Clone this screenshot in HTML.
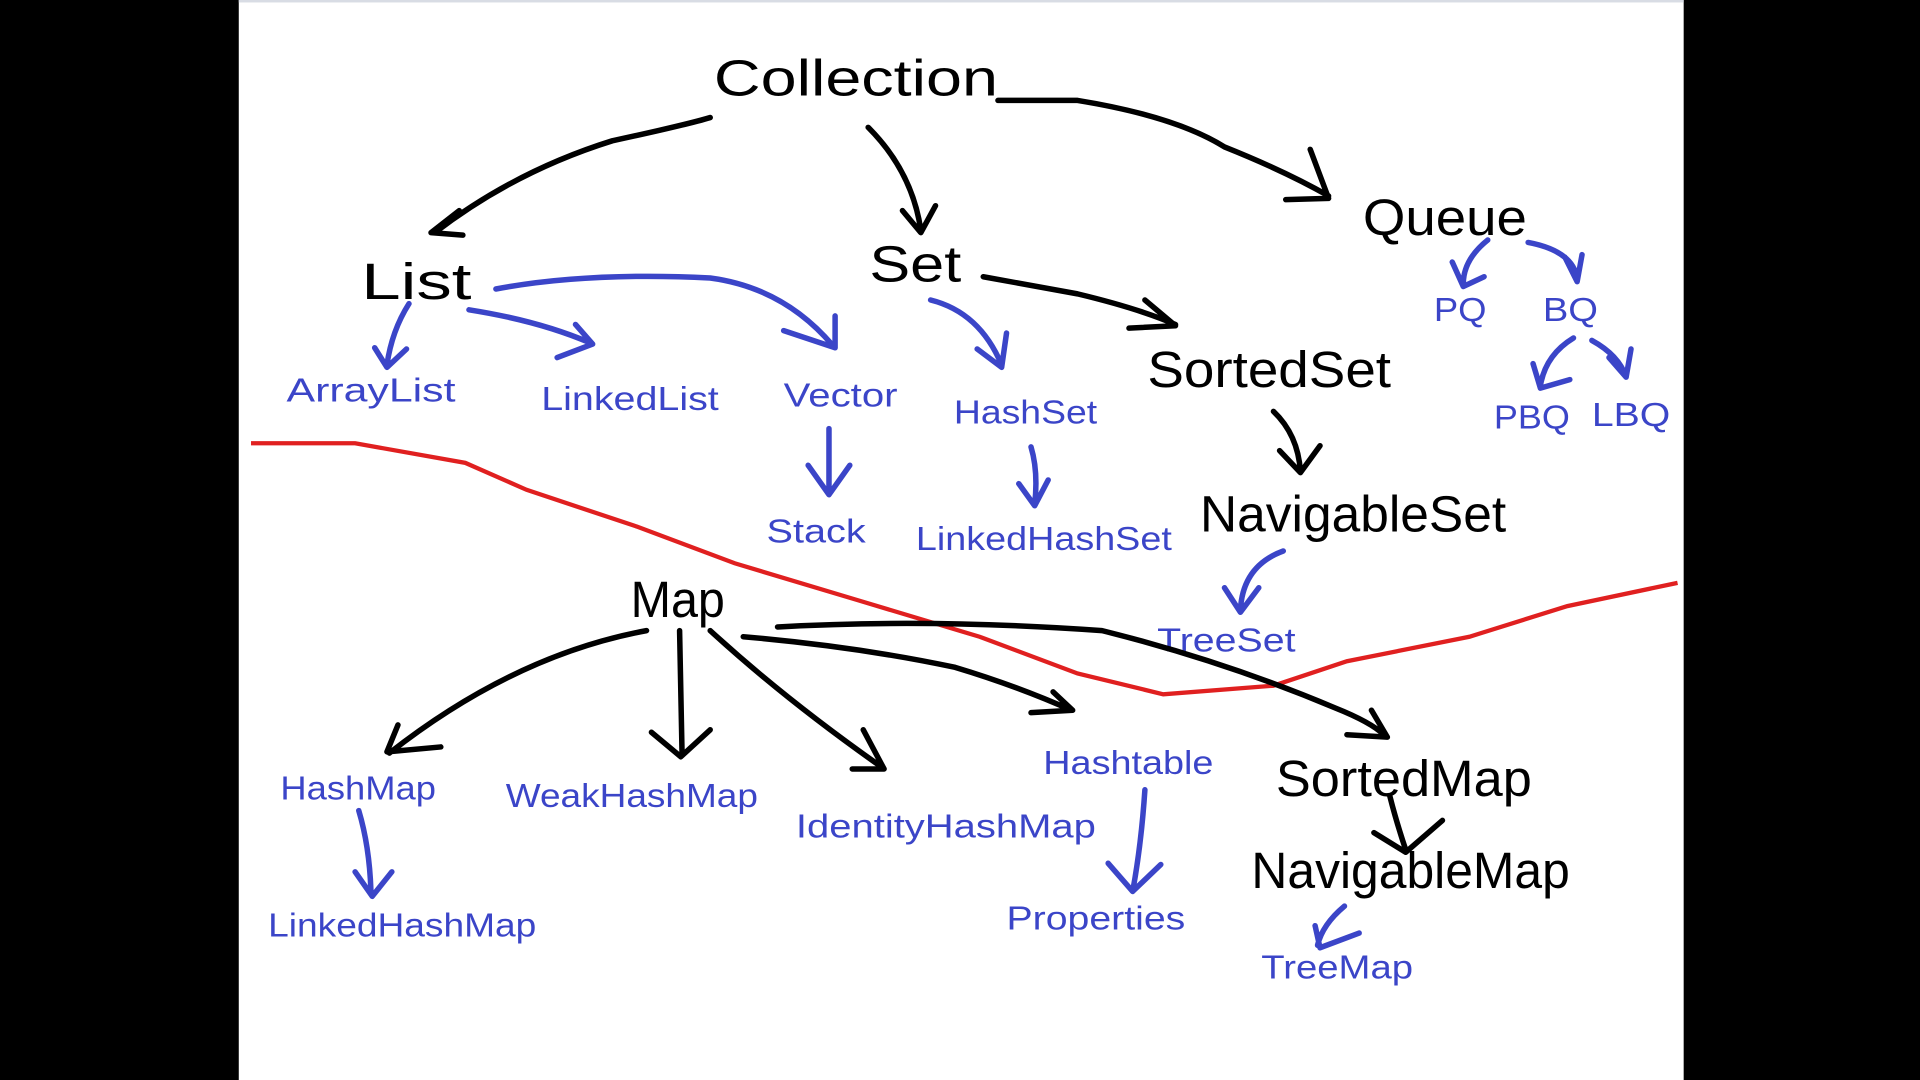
<!DOCTYPE html>
<html><head><meta charset="utf-8"><style>
html,body{margin:0;padding:0;background:#000;width:1920px;height:1080px;overflow:hidden}
svg{display:block}
.b{font-family:"Liberation Sans","DejaVu Sans",sans-serif;fill:#000;font-size:42px}
.u{font-family:"Liberation Sans","DejaVu Sans",sans-serif;fill:#3b45c8;font-size:27px}
.k{fill:none;stroke:#000;stroke-width:4.5;stroke-linecap:round;stroke-linejoin:round}
.l{fill:none;stroke:#3b45c8;stroke-width:4.5;stroke-linecap:round;stroke-linejoin:round}
</style></head><body>
<svg width="1920" height="1080" viewBox="0 0 1568 882" preserveAspectRatio="none">
<rect x="0" y="0" width="1568" height="882" fill="#000"/>
<rect x="195" y="0" width="1180" height="882" fill="#fff"/>
<rect x="195" y="0" width="1180" height="2" fill="#d8dce4"/>
<!-- red line -->
<path d="M205 362 L290 362 L380 378 L430 400 L520 430 L600 460 L700 490 L800 520 L880 550 L950 567 L1040 560 L1100 540 L1200 520 L1280 495 L1370 476" fill="none" stroke="#e02020" stroke-width="3.5"/>
<!-- black text -->
<text class="b" x="583" y="78" textLength="232" lengthAdjust="spacingAndGlyphs">Collection</text>
<text class="b" x="295" y="244" textLength="90" lengthAdjust="spacingAndGlyphs">List</text>
<text class="b" x="710" y="230" textLength="75" lengthAdjust="spacingAndGlyphs">Set</text>
<text class="b" x="1113" y="192" textLength="134" lengthAdjust="spacingAndGlyphs">Queue</text>
<text class="b" x="937" y="316" font-size="38" textLength="199" lengthAdjust="spacingAndGlyphs">SortedSet</text>
<text class="b" x="980" y="434" font-size="38" textLength="250" lengthAdjust="spacingAndGlyphs">NavigableSet</text>
<text class="b" x="515" y="504" font-size="38" textLength="77" lengthAdjust="spacingAndGlyphs">Map</text>
<text class="b" x="1042" y="650" font-size="38" textLength="209" lengthAdjust="spacingAndGlyphs">SortedMap</text>
<text class="b" x="1022" y="725" font-size="38" textLength="260" lengthAdjust="spacingAndGlyphs">NavigableMap</text>
<!-- blue text -->
<text class="u" x="234" y="328" textLength="138" lengthAdjust="spacingAndGlyphs">ArrayList</text>
<text class="u" x="442" y="335" textLength="145" lengthAdjust="spacingAndGlyphs">LinkedList</text>
<text class="u" x="640" y="332" textLength="93" lengthAdjust="spacingAndGlyphs">Vector</text>
<text class="u" x="779" y="346" textLength="117" lengthAdjust="spacingAndGlyphs">HashSet</text>
<text class="u" x="626" y="443" textLength="81" lengthAdjust="spacingAndGlyphs">Stack</text>
<text class="u" x="748" y="449" textLength="209" lengthAdjust="spacingAndGlyphs">LinkedHashSet</text>
<text class="u" x="1171" y="262" textLength="43" lengthAdjust="spacingAndGlyphs">PQ</text>
<text class="u" x="1260" y="262" textLength="45" lengthAdjust="spacingAndGlyphs">BQ</text>
<text class="u" x="1220" y="350" textLength="62" lengthAdjust="spacingAndGlyphs">PBQ</text>
<text class="u" x="1300" y="348" textLength="64" lengthAdjust="spacingAndGlyphs">LBQ</text>
<text class="u" x="945" y="532" textLength="113" lengthAdjust="spacingAndGlyphs">TreeSet</text>
<text class="u" x="229" y="653" textLength="127" lengthAdjust="spacingAndGlyphs">HashMap</text>
<text class="u" x="413" y="659" textLength="206" lengthAdjust="spacingAndGlyphs">WeakHashMap</text>
<text class="u" x="650" y="684" textLength="245" lengthAdjust="spacingAndGlyphs">IdentityHashMap</text>
<text class="u" x="852" y="632" textLength="139" lengthAdjust="spacingAndGlyphs">Hashtable</text>
<text class="u" x="219" y="765" textLength="219" lengthAdjust="spacingAndGlyphs">LinkedHashMap</text>
<text class="u" x="822" y="759" textLength="146" lengthAdjust="spacingAndGlyphs">Properties</text>
<text class="u" x="1030" y="799" textLength="124" lengthAdjust="spacingAndGlyphs">TreeMap</text>
<!-- black arrows -->
<path class="k" d="M580 96 Q560 102 500 115 Q420 140 355 190 M375 172 L352 190 L378 192"/>
<path class="k" d="M709 104 Q745 140 752 188 M737 172 L752 190 L764 168"/>
<path class="k" d="M815 82 L880 82 Q960 95 1000 120 Q1050 140 1085 160 M1070 122 L1085 162 L1050 163"/>
<path class="k" d="M803 226 L880 240 Q930 252 960 265 M935 245 L960 266 L922 268"/>
<path class="k" d="M1040 336 Q1060 355 1062 385 M1045 368 L1062 386 L1078 364"/>
<path class="k" d="M528 515 Q420 535 318 615 M325 592 L316 614 L360 610"/>
<path class="k" d="M555 515 L557 615 M532 598 L556 618 L580 596"/>
<path class="k" d="M580 515 Q640 570 718 625 M705 596 L722 628 L696 628"/>
<path class="k" d="M607 520 Q700 528 780 545 Q830 560 875 580 M860 565 L876 580 L842 582"/>
<path class="k" d="M635 512 Q760 505 900 515 Q1000 540 1090 578 Q1120 590 1130 600 M1120 580 L1133 602 L1100 600"/>
<path class="k" d="M1135 650 Q1140 670 1148 694 M1122 680 L1148 696 L1178 670"/>
<!-- blue arrows -->
<path class="l" d="M334 248 Q320 270 316 298 M306 284 L316 300 L332 285"/>
<path class="l" d="M383 253 Q440 262 482 280 M470 265 L484 281 L455 292"/>
<path class="l" d="M405 236 Q480 222 580 227 Q640 235 680 282 M682 258 L682 284 L640 270"/>
<path class="l" d="M760 245 Q800 255 818 298 M798 285 L818 300 L822 272"/>
<path class="l" d="M677 350 L677 402 M660 380 L677 404 L694 380"/>
<path class="l" d="M842 365 Q848 385 845 412 M832 395 L845 413 L856 392"/>
<path class="l" d="M1215 196 Q1195 212 1195 232 M1186 214 L1195 234 L1212 226"/>
<path class="l" d="M1248 198 Q1285 205 1288 228 M1278 210 L1288 230 L1292 208"/>
<path class="l" d="M1285 276 Q1262 290 1258 315 M1252 297 L1258 317 L1282 310"/>
<path class="l" d="M1300 278 Q1322 290 1328 308 M1314 292 L1328 308 L1332 285"/>
<path class="l" d="M1048 450 Q1015 462 1013 498 M1000 480 L1013 500 L1028 480"/>
<path class="l" d="M293 662 Q302 692 303 730 M290 712 L304 732 L320 712"/>
<path class="l" d="M935 645 Q932 690 925 728 M905 705 L925 728 L948 706"/>
<path class="l" d="M1098 740 Q1080 755 1076 772 M1074 756 L1078 774 L1110 762"/>
</svg>
</body></html>
